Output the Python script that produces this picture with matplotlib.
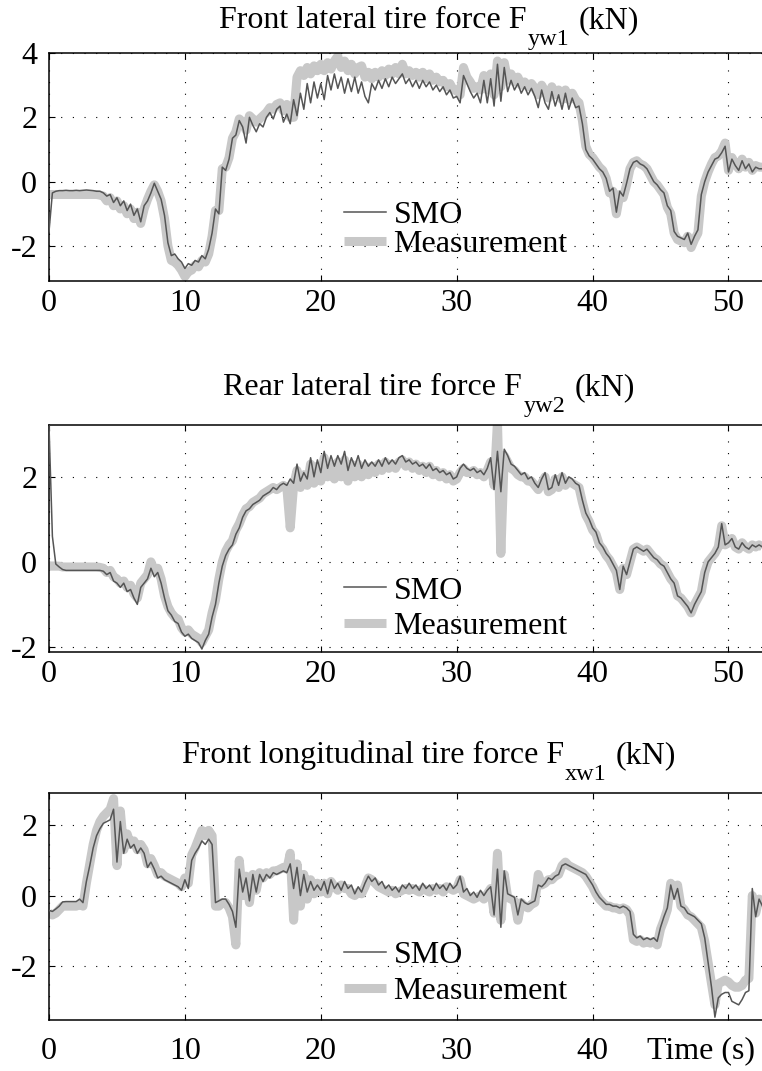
import numpy as np
import matplotlib
matplotlib.use("Agg")
import matplotlib.pyplot as plt
from matplotlib.lines import Line2D

plt.rcParams['font.family'] = ['Liberation Serif', 'DejaVu Serif']
plt.rcParams['axes.unicode_minus'] = False

# =============================================================================
# Datos (muestreo 0.25 s, de 0 a 52.5 s)
# =============================================================================
t = np.arange(211) * 0.25

fyw1_smo = [
    -1.55, -0.35, -0.30, -0.28, -0.28, -0.27, -0.28, -0.28,
    -0.27, -0.28, -0.27, -0.26, -0.27, -0.28, -0.30, -0.30,
    -0.35, -0.45, -0.40, -0.65, -0.50, -0.75, -0.60, -0.90,
    -0.70, -1.05, -0.85, -1.25, -0.75, -0.60, -0.35, -0.05,
    -0.30, -0.55, -1.05, -1.90, -2.30, -2.25, -2.40, -2.50,
    -2.70, -2.55, -2.60, -2.45, -2.50, -2.30, -2.40, -2.10,
    -1.60, -0.85, -1.00, 0.45, 0.35, 0.70, 1.35, 1.45,
    1.90, 1.70, 1.20, 2.00, 1.75, 1.55, 1.80, 1.70,
    2.00, 2.15, 1.95, 2.25, 2.35, 1.85, 2.10, 1.80,
    2.55, 2.05, 2.75, 2.25, 3.05, 2.45, 3.10, 2.60,
    3.05, 2.55, 3.30, 2.85, 3.35, 2.90, 3.25, 2.75,
    3.20, 2.80, 3.25, 2.75, 3.10, 2.65, 2.45, 3.05,
    2.85, 3.15, 2.90, 3.20, 2.95, 3.25, 3.05, 3.20,
    3.35, 3.05, 3.20, 2.95, 3.15, 2.90, 3.15, 2.95,
    3.10, 2.85, 3.00, 2.80, 2.95, 2.70, 2.85, 2.60,
    2.65, 2.45, 3.30, 3.05, 2.80, 2.60, 2.75, 2.45,
    3.15, 2.45, 3.20, 2.35, 3.65, 2.50, 3.55, 2.80,
    3.15, 2.85, 3.05, 2.75, 2.95, 2.70, 2.90, 2.65,
    2.30, 2.85, 2.45, 2.25, 2.80, 2.35, 2.70, 2.25,
    2.75, 2.25, 2.60, 2.30, 2.35, 1.80, 1.00, 0.80,
    0.70, 0.55, 0.40, 0.30, 0.10, -0.30, -0.20, -0.95,
    -0.30, -0.45, -0.05, 0.40, 0.60, 0.65, 0.55, 0.50,
    0.40, 0.20, 0.00, -0.10, -0.25, -0.35, -0.75, -0.90,
    -1.55, -1.70, -1.75, -1.80, -1.60, -1.95, -1.70, -1.50,
    -0.40, 0.00, 0.30, 0.50, 0.70, 0.75, 0.90, 1.10,
    0.30, 0.70, 0.50, 0.35, 0.65, 0.40, 0.55, 0.30,
    0.45, 0.40, 0.40,
]
fyw1_meas = [
    -0.40, -0.40, -0.40, -0.40, -0.40, -0.40, -0.40, -0.40,
    -0.40, -0.40, -0.40, -0.40, -0.40, -0.40, -0.40, -0.42,
    -0.45, -0.60, -0.50, -0.75, -0.60, -0.85, -0.75, -1.00,
    -0.85, -1.15, -0.95, -1.30, -0.85, -0.55, -0.30, -0.10,
    -0.30, -0.60, -1.15, -2.00, -2.45, -2.50, -2.60, -2.75,
    -2.95, -2.80, -2.75, -2.60, -2.65, -2.45, -2.50, -2.25,
    -1.70, -0.90, -0.90, 0.40, 0.45, 0.75, 1.35, 1.55,
    1.95, 1.85, 1.60, 2.05, 1.95, 1.85, 1.95, 2.05,
    2.15, 2.30, 2.25, 2.40, 2.45, 2.20, 2.40, 2.00,
    2.00, 3.25, 3.45, 3.30, 3.55, 3.35, 3.60, 3.45,
    3.65, 3.45, 3.70, 3.50, 3.75, 3.90, 3.55, 3.75,
    3.45, 3.65, 3.35, 3.55, 3.60, 3.25, 3.40, 3.20,
    3.40, 3.25, 3.45, 3.30, 3.50, 3.35, 3.55, 3.35,
    3.65, 3.35, 3.45, 3.30, 3.40, 3.25, 3.40, 3.20,
    3.35, 3.15, 3.25, 3.10, 3.15, 2.95, 3.05, 2.85,
    2.85, 2.70, 3.55, 3.25, 3.10, 2.90, 2.95, 2.85,
    3.30, 2.85, 3.35, 2.70, 3.75, 2.95, 3.70, 3.15,
    3.35, 3.10, 3.25, 3.00, 3.10, 2.95, 3.05, 2.90,
    2.70, 3.00, 2.80, 2.60, 2.95, 2.70, 2.85, 2.55,
    2.85, 2.55, 2.75, 2.55, 2.45, 1.90, 1.10, 0.85,
    0.75, 0.60, 0.45, 0.35, 0.10, -0.35, -0.30, -1.00,
    -0.40, -0.50, -0.10, 0.40, 0.60, 0.65, 0.55, 0.50,
    0.40, 0.20, 0.00, -0.10, -0.25, -0.40, -0.80, -1.00,
    -1.60, -1.80, -1.85, -1.90, -1.70, -2.05, -1.80, -1.60,
    -0.45, 0.00, 0.30, 0.55, 0.75, 0.80, 0.95, 1.20,
    0.35, 0.75, 0.55, 0.40, 0.70, 0.45, 0.60, 0.35,
    0.50, 0.45, 0.45,
]

fyw2_smo = [
    3.20, 0.60, -0.05, -0.12, -0.18, -0.20, -0.20, -0.20,
    -0.20, -0.20, -0.20, -0.20, -0.20, -0.20, -0.20, -0.20,
    -0.22, -0.30, -0.25, -0.45, -0.50, -0.60, -0.50, -0.70,
    -0.65, -0.85, -1.00, -0.60, -0.50, -0.40, -0.15, -0.35,
    -0.25, -0.50, -0.85, -1.15, -1.25, -1.40, -1.45, -1.65,
    -1.75, -1.70, -1.80, -1.85, -1.90, -2.05, -1.85, -1.70,
    -1.30, -1.00, -0.50, -0.10, 0.15, 0.30, 0.40, 0.65,
    0.80, 1.05, 1.20, 1.25, 1.35, 1.40, 1.45, 1.55,
    1.60, 1.65, 1.75, 1.70, 1.80, 1.85, 1.80, 1.95,
    1.85, 2.30, 1.90, 2.10, 1.95, 2.45, 2.00, 2.40,
    2.10, 2.60, 2.20, 2.50, 2.25, 2.50, 2.30, 2.60,
    2.15, 2.45, 2.25, 2.50, 2.20, 2.40, 2.25, 2.35,
    2.25, 2.40, 2.25, 2.45, 2.30, 2.40, 2.30, 2.45,
    2.50, 2.35, 2.40, 2.30, 2.35, 2.25, 2.30, 2.20,
    2.30, 2.15, 2.20, 2.10, 2.15, 2.05, 2.10, 1.95,
    2.00, 2.20, 2.30, 2.20, 2.15, 2.20, 2.10, 2.15,
    2.05, 2.20, 2.45, 1.70, 2.60, 1.65, 2.65, 2.50,
    2.30, 2.25, 2.15, 2.05, 2.10, 1.95, 2.00, 1.85,
    1.75, 1.95, 2.10, 1.70, 1.75, 2.05, 1.80, 2.10,
    1.85, 2.00, 1.95, 1.85, 1.80, 1.45, 1.15, 1.00,
    0.80, 0.70, 0.45, 0.35, 0.20, 0.10, -0.05, -0.20,
    -0.65, -0.10, -0.30, 0.00, 0.30, 0.35, 0.30, 0.25,
    0.30, 0.20, 0.10, 0.05, -0.05, -0.10, -0.25, -0.40,
    -0.50, -0.80, -0.85, -0.95, -1.05, -1.20, -1.00, -0.85,
    -0.70, -0.25, 0.00, 0.10, 0.20, 0.35, 0.90, 0.40,
    0.45, 0.55, 0.35, 0.30, 0.45, 0.35, 0.30, 0.40,
    0.35, 0.40, 0.35,
]
fyw2_meas = [
    -0.10, -0.10, -0.10, -0.10, -0.12, -0.12, -0.12, -0.12,
    -0.12, -0.12, -0.12, -0.12, -0.12, -0.12, -0.12, -0.13,
    -0.15, -0.25, -0.20, -0.35, -0.40, -0.50, -0.45, -0.60,
    -0.55, -0.75, -0.85, -0.50, -0.40, -0.30, 0.00, -0.20,
    -0.15, -0.40, -0.80, -1.05, -1.20, -1.30, -1.35, -1.55,
    -1.65, -1.60, -1.70, -1.75, -1.80, -1.90, -1.75, -1.60,
    -1.20, -0.90, -0.40, 0.00, 0.25, 0.40, 0.50, 0.75,
    0.90, 1.10, 1.25, 1.30, 1.40, 1.45, 1.50, 1.60,
    1.65, 1.70, 1.75, 1.70, 1.75, 1.80, 1.75, 0.80,
    1.80, 2.15, 1.75, 2.05, 1.80, 2.30, 1.85, 2.25,
    1.90, 2.45, 2.00, 2.30, 1.95, 2.35, 2.00, 2.40,
    1.90, 2.30, 2.00, 2.30, 2.00, 2.25, 2.05, 2.25,
    2.10, 2.30, 2.15, 2.35, 2.20, 2.30, 2.20, 2.35,
    2.40, 2.25, 2.35, 2.20, 2.30, 2.15, 2.25, 2.10,
    2.25, 2.05, 2.15, 2.00, 2.10, 1.95, 2.05, 1.90,
    1.95, 2.10, 2.20, 2.10, 2.10, 2.15, 2.05, 2.10,
    2.00, 2.15, 2.35, 1.80, 3.30, 0.20, 2.50, 2.35,
    2.20, 2.15, 2.05, 2.00, 2.00, 1.90, 1.90, 1.80,
    1.70, 1.85, 2.00, 1.65, 1.70, 1.95, 1.75, 2.00,
    1.80, 1.90, 1.85, 1.80, 1.75, 1.40, 1.10, 0.95,
    0.75, 0.65, 0.40, 0.30, 0.15, 0.05, -0.10, -0.25,
    -0.65, -0.15, -0.30, 0.00, 0.30, 0.35, 0.30, 0.25,
    0.30, 0.20, 0.10, 0.05, -0.05, -0.10, -0.25, -0.40,
    -0.50, -0.80, -0.85, -0.95, -1.05, -1.20, -1.00, -0.85,
    -0.70, -0.25, 0.00, 0.10, 0.20, 0.35, 0.85, 0.40,
    0.45, 0.55, 0.35, 0.30, 0.45, 0.35, 0.30, 0.40,
    0.35, 0.40, 0.35,
]

fxw1_smo = [
    -0.42, -0.45, -0.38, -0.30, -0.18, -0.17, -0.17, -0.17,
    -0.17, -0.10, -0.20, 0.40, 0.85, 1.35, 1.70, 1.90,
    2.05, 2.10, 2.15, 2.45, 0.95, 2.10, 1.20, 1.60,
    1.35, 1.45, 1.20, 1.35, 1.20, 0.80, 0.95, 0.75,
    0.50, 0.55, 0.45, 0.40, 0.35, 0.30, 0.25, 0.15,
    0.45, 0.20, 1.00, 1.20, 1.35, 1.55, 1.45, 1.60,
    1.45, -0.20, -0.15, -0.10, -0.10, -0.25, -0.45, -0.90,
    0.75, 0.10, 0.50, -0.15, 0.60, 0.10, 0.60, 0.40,
    0.60, 0.50, 0.65, 0.60, 0.65, 0.70, 0.65, 0.90,
    0.20, 0.80, 0.00, 0.60, 0.10, 0.40, 0.15, 0.30,
    0.15, 0.40, 0.05, 0.45, 0.20, 0.35, 0.15, 0.40,
    0.20, 0.30, 0.05, 0.25, 0.10, 0.35, 0.55, 0.40,
    0.50, 0.30, 0.40, 0.20, 0.30, 0.15, 0.25, 0.10,
    0.30, 0.20, 0.35, 0.20, 0.30, 0.15, 0.35, 0.20,
    0.30, 0.15, 0.35, 0.20, 0.30, 0.15, 0.35, 0.20,
    0.30, 0.55, 0.10, 0.20, 0.00, 0.10, -0.05, 0.15,
    0.00, 0.15, 0.25, -0.55, 0.75, -0.90, 0.70, 0.05,
    0.00, -0.05, -0.55, -0.10, -0.20, -0.25, -0.20, -0.15,
    0.30, 0.25, 0.35, 0.50, 0.45, 0.55, 0.60, 0.85,
    0.90, 0.85, 0.80, 0.75, 0.70, 0.65, 0.60, 0.45,
    0.30, 0.10, -0.05, -0.15, -0.25, -0.25, -0.30, -0.30,
    -0.35, -0.30, -0.35, -0.45, -1.10, -1.20, -1.15, -1.25,
    -1.20, -1.25, -1.20, -1.30, -0.90, -0.60, -0.35, 0.30,
    -0.10, 0.20, -0.30, -0.35, -0.50, -0.55, -0.60, -0.70,
    -0.80, -1.20, -1.90, -2.60, -3.45, -2.90, -2.80, -2.75,
    -2.75, -3.00, -3.05, -3.10, -2.95, -2.75, -2.70, 0.20,
    -0.60, -0.10, -0.30,
]
fxw1_meas = [
    -0.50, -0.55, -0.50, -0.40, -0.30, -0.30, -0.30, -0.30,
    -0.30, -0.25, -0.30, 0.35, 0.90, 1.45, 1.85, 2.10,
    2.25, 2.35, 2.45, 2.75, 0.85, 2.40, 1.30, 1.75,
    1.45, 1.55, 1.30, 1.45, 1.30, 0.90, 1.05, 0.85,
    0.60, 0.65, 0.55, 0.50, 0.45, 0.40, 0.35, 0.25,
    0.50, 0.35, 1.15, 1.35, 1.60, 1.85, 1.70, 1.85,
    1.70, -0.30, -0.30, -0.20, -0.20, -0.35, -0.60, -1.40,
    1.00, 0.00, 0.55, -0.20, 0.60, 0.15, 0.65, 0.50,
    0.65, 0.60, 0.70, 0.70, 0.75, 0.80, 0.75, 1.20,
    -0.70, 0.90, -0.30, 0.60, -0.10, 0.45, 0.05, 0.35,
    0.10, 0.35, 0.05, 0.40, 0.25, 0.15, 0.30, 0.20,
    0.20, 0.05, 0.00, 0.10, 0.05, 0.25, 0.50, 0.45,
    0.35, 0.25, 0.20, 0.15, 0.10, 0.15, 0.05, 0.10,
    0.15, 0.20, 0.15, 0.20, 0.15, 0.10, 0.20, 0.15,
    0.10, 0.20, 0.15, 0.20, 0.10, 0.25, 0.20, 0.15,
    0.20, 0.45, 0.05, 0.00, -0.05, -0.10, -0.05, 0.00,
    -0.10, 0.05, 0.20, -0.50, 1.20, -0.70, 0.60, -0.05,
    -0.10, -0.15, -0.70, -0.20, -0.30, -0.35, -0.25, -0.20,
    0.60, 0.30, 0.35, 0.45, 0.45, 0.55, 0.60, 0.85,
    0.95, 0.85, 0.80, 0.75, 0.70, 0.65, 0.55, 0.40,
    0.25, 0.05, -0.10, -0.20, -0.30, -0.30, -0.35, -0.35,
    -0.40, -0.35, -0.40, -0.55, -1.25, -1.30, -1.25, -1.35,
    -1.30, -1.35, -1.30, -1.40, -0.95, -0.70, -0.40, 0.35,
    0.00, 0.30, -0.30, -0.40, -0.55, -0.60, -0.70, -0.80,
    -0.90, -1.30, -1.90, -2.50, -3.10, -2.50, -2.45, -2.40,
    -2.45, -2.55, -2.60, -2.60, -2.55, -2.40, -2.35, 0.00,
    -0.50, -0.10, -0.30,
]

# =============================================================================
# Figura
# =============================================================================
W, H = 762, 1071
fig = plt.figure(figsize=(W / 100, H / 100), dpi=100)

FS = 23
c_smo = '#555555'
c_meas = '#c8c8c8'
px_per_s = 13.59
ax_w = 758  # el eje sigue mas alla del borde derecho (recortado)

# (top px, bottom px, ylim, yticks, datos, titulo, subindice, base titulo,
#  legend y, labelspacing, pad ticks x)
panels = [
    (53, 281, (-3.09, 4.0), [-2, 0, 2, 4], fyw1_smo, fyw1_meas,
     "Front lateral tire force F", "yw1", 28, 0.225, 0.0, 6),
    (425, 652, (-2.12, 3.22), [-2, 0, 2], fyw2_smo, fyw2_meas,
     "Rear lateral tire force F", "yw2", 395, 0.19, 0.2, 6),
    (793, 1020, (-3.53, 2.91), [-2, 0, 2], fxw1_smo, fxw1_meas,
     "Front longitudinal tire force F", "xw1", 763, 0.205, 0.2, 12),
]

renderer = fig.canvas.get_renderer()

for i, (top, bot, ylim, yt, smo, meas, ttl, sub, base, legy, lsp, pad) in enumerate(panels):
    ax = fig.add_axes([49 / W, 1 - bot / H, ax_w / W, (bot - top) / H])
    ax.plot(t, meas, color=c_meas, lw=6.5, solid_joinstyle='round',
            solid_capstyle='butt', zorder=2)
    ax.plot(t, smo, color=c_smo, lw=1.1, zorder=3)
    ax.set_xlim(0, ax_w / px_per_s)
    ax.set_ylim(*ylim)
    ax.set_xticks([0, 10, 20, 30, 40, 50])
    if i == 2:
        ax.set_xticklabels(['0', '10', '20', '30', '40', ''])
    ax.set_yticks(yt)
    ax.grid(True, color='k', linestyle=(0, (1, 9.5)), linewidth=0.8)
    ax.tick_params(direction='in', top=True, right=False, length=4, width=0.8,
                   labelsize=FS)
    ax.tick_params(axis='x', pad=pad)
    ax.tick_params(axis='y', pad=8.5)
    for s in ax.spines.values():
        s.set_linewidth(1.1)

    handles = [Line2D([], [], color=c_smo, lw=1.1),
               Line2D([], [], color=c_meas, lw=6.5, solid_capstyle='butt')]
    ax.legend(handles, ['SMO', 'Measurement'], loc='center left',
              bbox_to_anchor=((344 - 49) / ax_w, legy), frameon=False,
              fontsize=FS, handlelength=1.3, handletextpad=0.25,
              labelspacing=lsp, borderpad=0, borderaxespad=0)

    # titulo con subindice bajo
    ta = fig.text(0, 1 - base / H, ttl, fontsize=FS, va='baseline')
    tb = fig.text(0, 1 - (base + 17) / H, sub, fontsize=17.5, va='baseline')
    tc = fig.text(0, 1 - base / H, '(kN)', fontsize=FS, va='baseline')
    wa = ta.get_window_extent(renderer).width
    wb = tb.get_window_extent(renderer).width
    wc = tc.get_window_extent(renderer).width
    gap = 10
    x0 = 429 - (wa + wb + gap + wc) / 2
    ta.set_x(x0 / W)
    tb.set_x((x0 + wa + 1) / W)
    tc.set_x((x0 + wa + wb + gap) / W)

fig.text(647 / W, 1 - 1058 / H, 'Time (s)', fontsize=FS, va='baseline')

fig.savefig('out.png', dpi=100)
